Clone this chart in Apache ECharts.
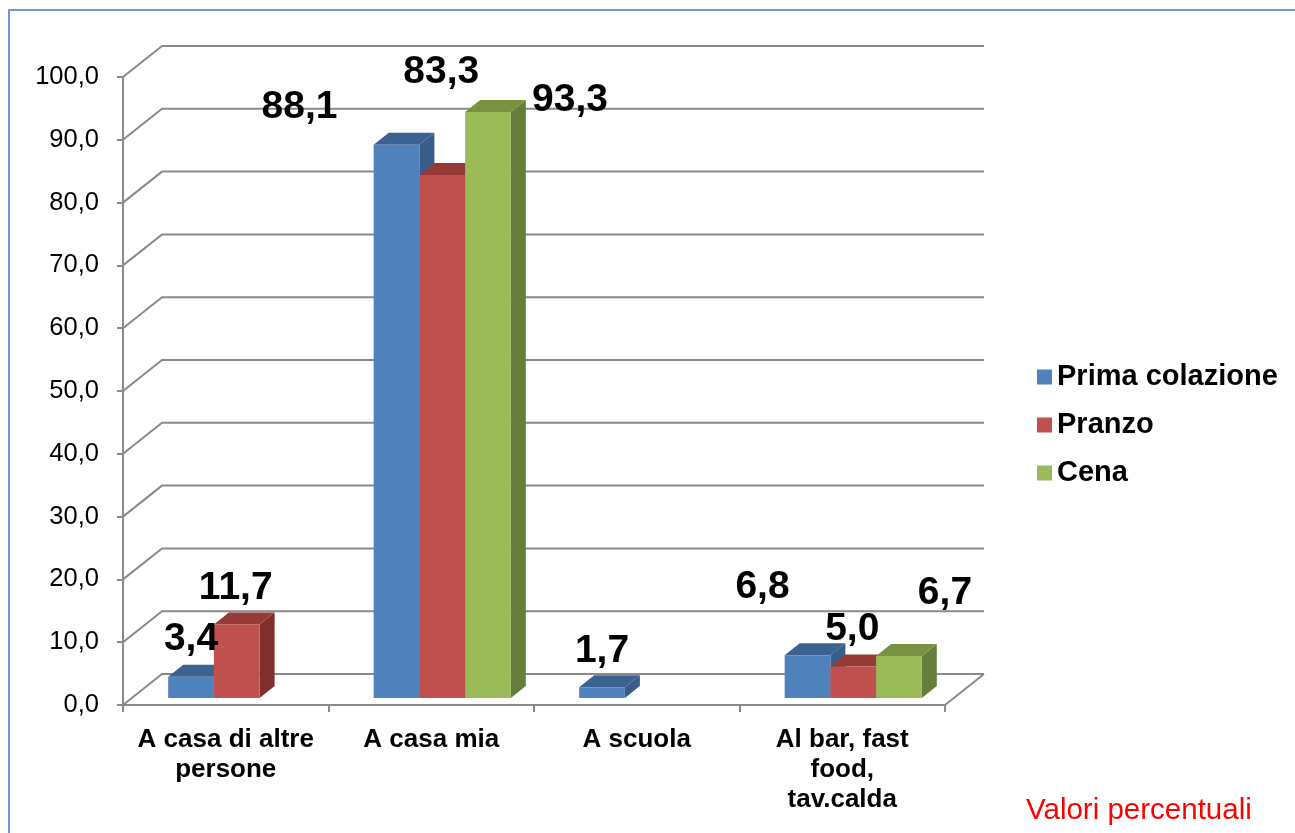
<!DOCTYPE html>
<html>
<head>
<meta charset="utf-8">
<script src="https://cdn.jsdelivr.net/npm/echarts@6/dist/echarts.min.js"></script>
<style>
  html, body { margin: 0; padding: 0; background: #fff; }
  #chart { width: 1295px; height: 833px; }
</style>
</head>
<body>
<div id="chart"></div>
<script>
const categories = ['A casa di altre\npersone', 'A casa mia', 'A scuola', 'Al bar, fast\nfood,\ntav.calda'];
const seriesNames = ['Prima colazione', 'Pranzo', 'Cena'];
const primaColazione = [3.4, 88.1, 1.7, 6.8];
const pranzo = [11.7, 83.3, null, 5.0];
const cena = [null, 93.3, null, 6.7];
const yTicks = [0, 10, 20, 30, 40, 50, 60, 70, 80, 90, 100];

// label nudges (Excel placed the labels by hand), px from the bar's front-top centre
const labelNudge = [
  [[0, -37], [-97, -37], [0, -36], [-45, -68]],
  [[-1, -36], [-1, -103], [0, -37], [-1, -37]],
  [[0, -37], [82, -12], [0, -37], [46, -63]]
];

const faces = [
  { front: '#4F81BD', top: '#3B6291', side: '#385D8A' },
  { front: '#C0504D', top: '#953A37', side: '#7F302E' },
  { front: '#9BBB59', top: '#789242', side: '#677E3B' }
];

const FONT = '"Liberation Sans", Arial, sans-serif';
const WALL = [39, -31];   // depth of the floor / back wall
const FRONT = [11, -7];   // bars sit a bit inside the box
const DEPTH = [15, -12];  // bar depth
const BAR_RATIO = 0.2225;

const chart = echarts.init(document.getElementById('chart'));

function fmt(v) { return v.toFixed(1).replace('.', ','); }

function wallRender(params, api) {
  const cs = params.coordSys;
  const y = api.coord([0, api.value(1)])[1];
  const xl = cs.x, xr = cs.x + cs.width;
  const style = { stroke: '#8A8A8A', lineWidth: 2, fill: null };
  const children = [{
    type: 'polyline',
    shape: { points: [[xl, y], [xl + WALL[0], y + WALL[1]], [xr + WALL[0], y + WALL[1]]] },
    style: style
  }];
  if (api.value(1) === 0) {
    children.push({
      type: 'line',
      shape: { x1: xr, y1: y, x2: xr + WALL[0], y2: y + WALL[1] },
      style: style
    });
  }
  return { type: 'group', children: children };
}

function barRender(si) {
  return function (params, api) {
    const v = api.value(1);
    if (v == null || isNaN(v)) return;
    const cat = api.value(0);
    const base = api.coord([cat, 0]);
    const top = api.coord([cat, v]);
    const bw = api.size([1, 0])[0] * BAR_RATIO;
    const x0 = base[0] + (si - 1.5) * bw + FRONT[0];
    const x1 = x0 + bw;
    const by = base[1] + FRONT[1];
    const ty = top[1] + FRONT[1];
    const c = faces[si];
    const nd = labelNudge[si][cat];
    return {
      type: 'group',
      children: [
        { type: 'polygon', shape: { points: [[x1, ty], [x1 + DEPTH[0], ty + DEPTH[1]], [x1 + DEPTH[0], by + DEPTH[1]], [x1, by]] }, style: { fill: c.side } },
        { type: 'polygon', shape: { points: [[x0, ty], [x1, ty], [x1 + DEPTH[0], ty + DEPTH[1]], [x0 + DEPTH[0], ty + DEPTH[1]]] }, style: { fill: c.top } },
        { type: 'rect', shape: { x: x0, y: ty, width: bw, height: by - ty }, style: { fill: c.front } },
        {
          type: 'text', z2: 100,
          style: {
            x: (x0 + x1) / 2 + nd[0], y: ty + nd[1], text: fmt(v),
            align: 'center', verticalAlign: 'middle',
            font: 'bold 39px ' + FONT, fill: '#000'
          }
        }
      ]
    };
  };
}

const rows = [primaColazione, pranzo, cena];

const option = {
  animation: false,
  textStyle: { fontFamily: FONT },
  grid: { left: 123, top: 77, width: 822, height: 628 },
  legend: {
    orient: 'vertical', left: 1032, top: 357,
    itemWidth: 15, itemHeight: 15, itemGap: 18, icon: 'rect',
    textStyle: { fontSize: 29, fontWeight: 'bold', color: '#000', lineHeight: 30 },
    data: seriesNames
  },
  xAxis: {
    type: 'category', data: categories,
    axisLine: { lineStyle: { color: '#8A8A8A', width: 2 } },
    axisTick: { show: true, length: 7, interval: 0, lineStyle: { color: '#8A8A8A', width: 2 } },
    axisLabel: { interval: 0, fontSize: 26, fontWeight: 'bold', color: '#000', lineHeight: 30, margin: 20 },
    splitLine: { show: false }
  },
  yAxis: {
    type: 'value', min: 0, max: 100, interval: 10,
    axisLine: { show: true, lineStyle: { color: '#8A8A8A', width: 2 } },
    axisTick: { show: true, length: 6, lineStyle: { color: '#8A8A8A', width: 2 } },
    axisLabel: { fontSize: 25.5, color: '#000', margin: 24, formatter: fmt },
    splitLine: { show: false }
  },
  graphic: [
    { type: 'rect', z: -10, shape: { x: 9, y: 10, width: 1300, height: 840 }, style: { fill: null, stroke: '#6F99D3', lineWidth: 2 } },
    { type: 'text', left: 1026, top: 796, style: { text: 'Valori percentuali', font: '29.5px ' + FONT, fill: '#FF0000' } }
  ],
  series: [
    {
      type: 'custom', name: 'wall', z: 1, silent: true,
      data: yTicks.map(function (v) { return [0, v]; }),
      renderItem: wallRender
    }
  ].concat(rows.map(function (row, si) {
    return {
      type: 'custom', name: seriesNames[si], z: 2,
      itemStyle: { color: faces[si].front },
      encode: { x: 0, y: 1 },
      data: row.map(function (v, i) { return [i, v == null ? NaN : v]; }),
      renderItem: barRender(si)
    };
  }))
};

chart.setOption(option);
window.addEventListener('resize', function () { chart.resize(); });
</script>
</body>
</html>
